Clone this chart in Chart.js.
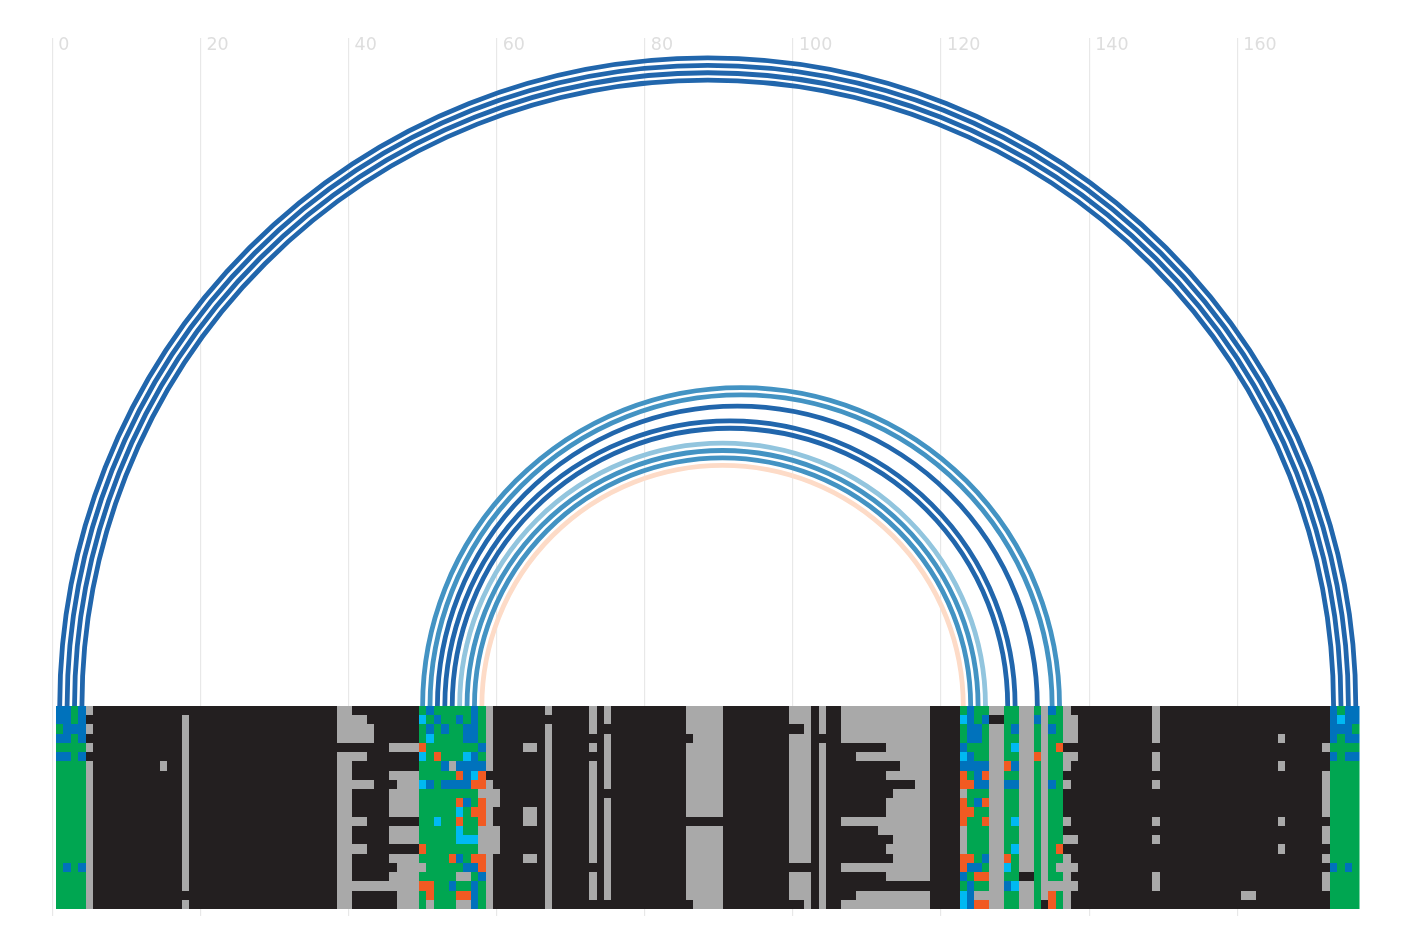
<!DOCTYPE html>
<html>
<head>
<meta charset="utf-8">
<title>Alignment arcs</title>
<script src="https://cdn.jsdelivr.net/npm/chart.js@4"></script>
<style>
  html, body { margin: 0; padding: 0; background: #fff; }
  canvas { display: block; }
</style>
</head>
<body>
<canvas id="chart" width="1408" height="952"></canvas>
<script>
// helix arcs: arcStarts[i] pairs with arcEnds[i]
const arcStarts = [1, 2, 3, 4, 50, 51, 52, 53, 54, 55, 56, 57, 58];
const arcEnds = [176, 175, 174, 173, 136, 135, 133, 130, 129, 126, 125, 124, 123];
const arcColors = ['#2166ac', '#2166ac', '#2166ac', '#2166ac', '#4393c3', '#4393c3', '#2166ac', '#2166ac', '#2166ac', '#92c5de', '#4393c3', '#4393c3', '#fddbc7'];

// alignment rows, "pos:letters" from that position, anything not listed is K
// K black, - gap, G green, B blue, C cyan, O orange
const alignment = [
  '1:BBGB- 39:-- 50:GBGGGGGBG- 67:- 73:- 75:- 86:----- 100:--- 104:- 107:------------ 123:GBGG--GG--G-BG- 149:- 173:BGBB',
  '1:BBGB 18:- 39:---- 50:CGBGGBGBG- 73:- 75:- 86:----- 100:--- 104:- 107:------------ 123:CBGBKKGG--B-GG-- 149:- 173:BCBB',
  '1:GBBB- 18:- 39:----- 50:GBGBGGBBG- 67:- 73:- 86:----- 102:- 104:- 107:------------ 123:GBBG--GB--G-BG-- 149:- 173:BBBG',
  '1:BBGB 18:- 39:----- 50:GCGGGGBBG- 67:- 75:- 87:---- 100:--- 107:------------ 123:GBBG--GG--G-GG-- 149:- 166:- 173:BGBB',
  '1:GGGG- 18:- 46:---- 50:OGGGGGGGB- 64:-- 67:- 73:- 75:- 86:----- 100:--- 104:- 113:------ 123:BGGG--GC--G-GO 172:-GGGG',
  '1:BBGB 18:- 39:---- 50:CGOGGGCBG- 67:- 75:- 86:----- 100:--- 104:- 109:---------- 123:CBGG--GG--O-GG-- 149:- 173:BGBB',
  '1:GGGG- 15:- 18:- 39:-- 50:GGGB-BBBB- 67:- 73:- 75:- 86:----- 100:--- 104:- 115:---- 123:BBBB--OB--G-GG- 149:- 166:- 173:GGGG',
  '1:GGGG- 18:- 39:-- 46:---- 50:GGGGGOBCO 67:- 73:- 75:- 86:----- 100:--- 104:- 113:------ 123:OGBO--GG--G-GG 172:-GGGG',
  '1:GGGG- 18:- 39:----- 47:--- 50:CBGBBBBOO- 67:- 73:- 75:- 86:----- 100:--- 104:- 117:-- 123:OOBB--BB--G-BG- 149:- 172:-GGGG',
  '1:GGGG- 18:- 39:-- 46:---- 50:GGGGGGGG--- 67:- 73:- 86:----- 100:--- 104:- 114:----- 123:-GGG--GG--G-GG 172:-GGGG',
  '1:GGGG- 18:- 39:-- 46:---- 50:GGGGGOBGO-- 67:- 73:- 75:- 86:----- 100:--- 104:- 113:------ 123:OGBO--GG--G-GG 172:-GGGG',
  '1:GGGG- 18:- 39:-- 46:---- 50:GGGGGCGOO- 64:-- 67:- 73:- 75:- 86:----- 100:--- 104:- 113:------ 123:OOGG--GG--G-GG 172:-GGGG',
  '1:GGGG- 18:- 39:---- 50:GGCGGOGGO- 64:-- 67:- 73:- 75:- 100:--- 104:- 107:------------ 123:OGGO--GC--G-GG- 149:- 166:- 173:GGGG',
  '1:GGGG- 18:- 39:-- 46:---- 50:GGGGGCGG--- 67:- 73:- 75:- 86:----- 100:--- 104:- 112:------- 123:-GGG--GG--G-GG 172:-GGGG',
  '1:GGGG- 18:- 39:-- 46:---- 50:GGGGGCCC--- 67:- 73:- 75:- 86:----- 100:--- 104:- 114:----- 123:-GGG--GG--G-GG-- 149:- 172:-GGGG',
  '1:GGGG- 18:- 39:---- 50:OGGGGGGG--- 67:- 73:- 75:- 86:----- 100:--- 104:- 113:------ 123:-GGG--GC--G-GO 166:- 173:GGGG',
  '1:GGGG- 18:- 39:-- 46:---- 50:GGGGOBGOO- 64:-- 67:- 73:- 75:- 86:----- 100:--- 104:- 114:----- 123:OOGB--OG--G-GG- 172:-GGGG',
  '1:GBGB- 18:- 39:-- 47:---- 51:GGGGGBBO- 67:- 75:- 86:----- 104:- 107:------------ 123:OBBG--CG--G-G--- 173:BGBG',
  '1:GGGG- 18:- 39:-- 46:---- 50:GGGGG--GB- 67:- 73:- 75:- 86:----- 100:--- 104:- 113:------ 123:BGOO--GGKKG-GG- 149:- 172:-GGGG',
  '1:GGGG- 18:- 39:----------- 50:OOGGBGGBG- 67:- 73:- 75:- 86:----- 100:--- 104:- 123:GBGG--BC--G----- 149:- 172:-GGGG',
  '1:GGGG- 39:-- 47:--- 50:GOGGGOOBG- 67:- 73:- 75:- 86:----- 100:--- 104:- 109:---------- 123:CB----GG--G-OG- 161:-- 173:GGGG',
  '1:GGGG- 18:- 39:-- 47:--- 50:G-GGG--BG- 67:- 87:---- 102:- 104:- 107:------------ 123:CBOO--GG--GKOG- 173:GGGG'
];

const letters = ['K', '-', 'G', 'B', 'C', 'O'];
const letterColors = ['#231f20', '#a9a9a9', '#00a651', '#0072bc', '#00b9f2', '#f15a22'];
const alignmentLength = 176;
const xTickStep = 20;

function rowToRuns(rowText){
  const cells = Array(alignmentLength).fill('K');
  rowText.split(' ').forEach(part => {
    const [pos, txt] = part.split(':');
    for(let i = 0; i < txt.length; i++) cells[+pos - 1 + i] = txt[i];
  });
  const runs = [];
  cells.forEach((c, i) => {
    const last = runs[runs.length - 1];
    if(last && last.letter === c) last.end = i + 1.5;
    else runs.push({letter: c, start: i + 0.5, end: i + 1.5});
  });
  return runs;
}

const datasets = letters.map((l, k) => ({
  label: l,
  backgroundColor: letterColors[k],
  borderWidth: 0,
  barThickness: 9.227,
  inflateAmount: 0,
  grouped: false,
  data: []
}));
alignment.forEach((rowText, r) => {
  rowToRuns(rowText).forEach(run => {
    datasets[letters.indexOf(run.letter)].data.push({x: [run.start, run.end], y: r + 0.5});
  });
});

// cells snap to whole pixels, otherwise row seams show through
const snapPlugin = {
  id: 'snap',
  afterDatasetsUpdate(chart){
    chart.getSortedVisibleDatasetMetas().forEach(meta => {
      meta.data.forEach(bar => {
        const top = Math.round(bar.y - bar.height / 2);
        const bottom = Math.round(bar.y + bar.height / 2);
        bar.y = (top + bottom) / 2;
        bar.height = bottom - top;
        bar.x = Math.round(bar.x);
        bar.base = Math.round(bar.base);
      });
    });
  }
};

const arcPlugin = {
  id: 'arcs',
  beforeDatasetsDraw(chart){
    const {ctx, scales} = chart;
    const base = scales.y.getPixelForValue(0);
    ctx.save();
    ctx.lineWidth = 4.8;
    ctx.lineCap = 'butt';
    arcStarts.forEach((s, i) => {
      const a = scales.x.getPixelForValue(s);
      const b = scales.x.getPixelForValue(arcEnds[i]);
      ctx.strokeStyle = arcColors[i];
      ctx.beginPath();
      ctx.arc((a + b) / 2, base, (b - a) / 2, Math.PI, 2 * Math.PI);
      ctx.stroke();
    });
    ctx.restore();
  }
};

new Chart(document.getElementById('chart'), {
  type: 'bar',
  data: {datasets},
  plugins: [snapPlugin, arcPlugin],
  options: {
    indexAxis: 'y',
    responsive: false,
    animation: false,
    layout: {padding: {left: 52.3, right: 48.5, top: 38, bottom: 36}},
    plugins: {legend: {display: false}, tooltip: {enabled: false}},
    scales: {
      x: {
        type: 'linear',
        position: 'top',
        min: 0,
        max: 176.5,
        border: {display: false},
        grid: {color: '#e8e8e8', lineWidth: 1.2, drawTicks: false},
        afterFit(axis){ axis.height = 0 },
        ticks: {
          stepSize: xTickStep,
          includeBounds: false,
          autoSkip: false,
          maxRotation: 0,
          mirror: true, // label clip area would be empty otherwise
          align: 'start',
          labelOffset: 6,
          padding: -3,
          color: '#dedede',
          font: {family: '"DejaVu Sans"', size: 17.5}
        }
      },
      y: {
        type: 'linear',
        display: false,
        reverse: true,
        offset: false,
        min: -72.4,
        max: 22.76
      }
    }
  }
});
</script>
</body>
</html>
